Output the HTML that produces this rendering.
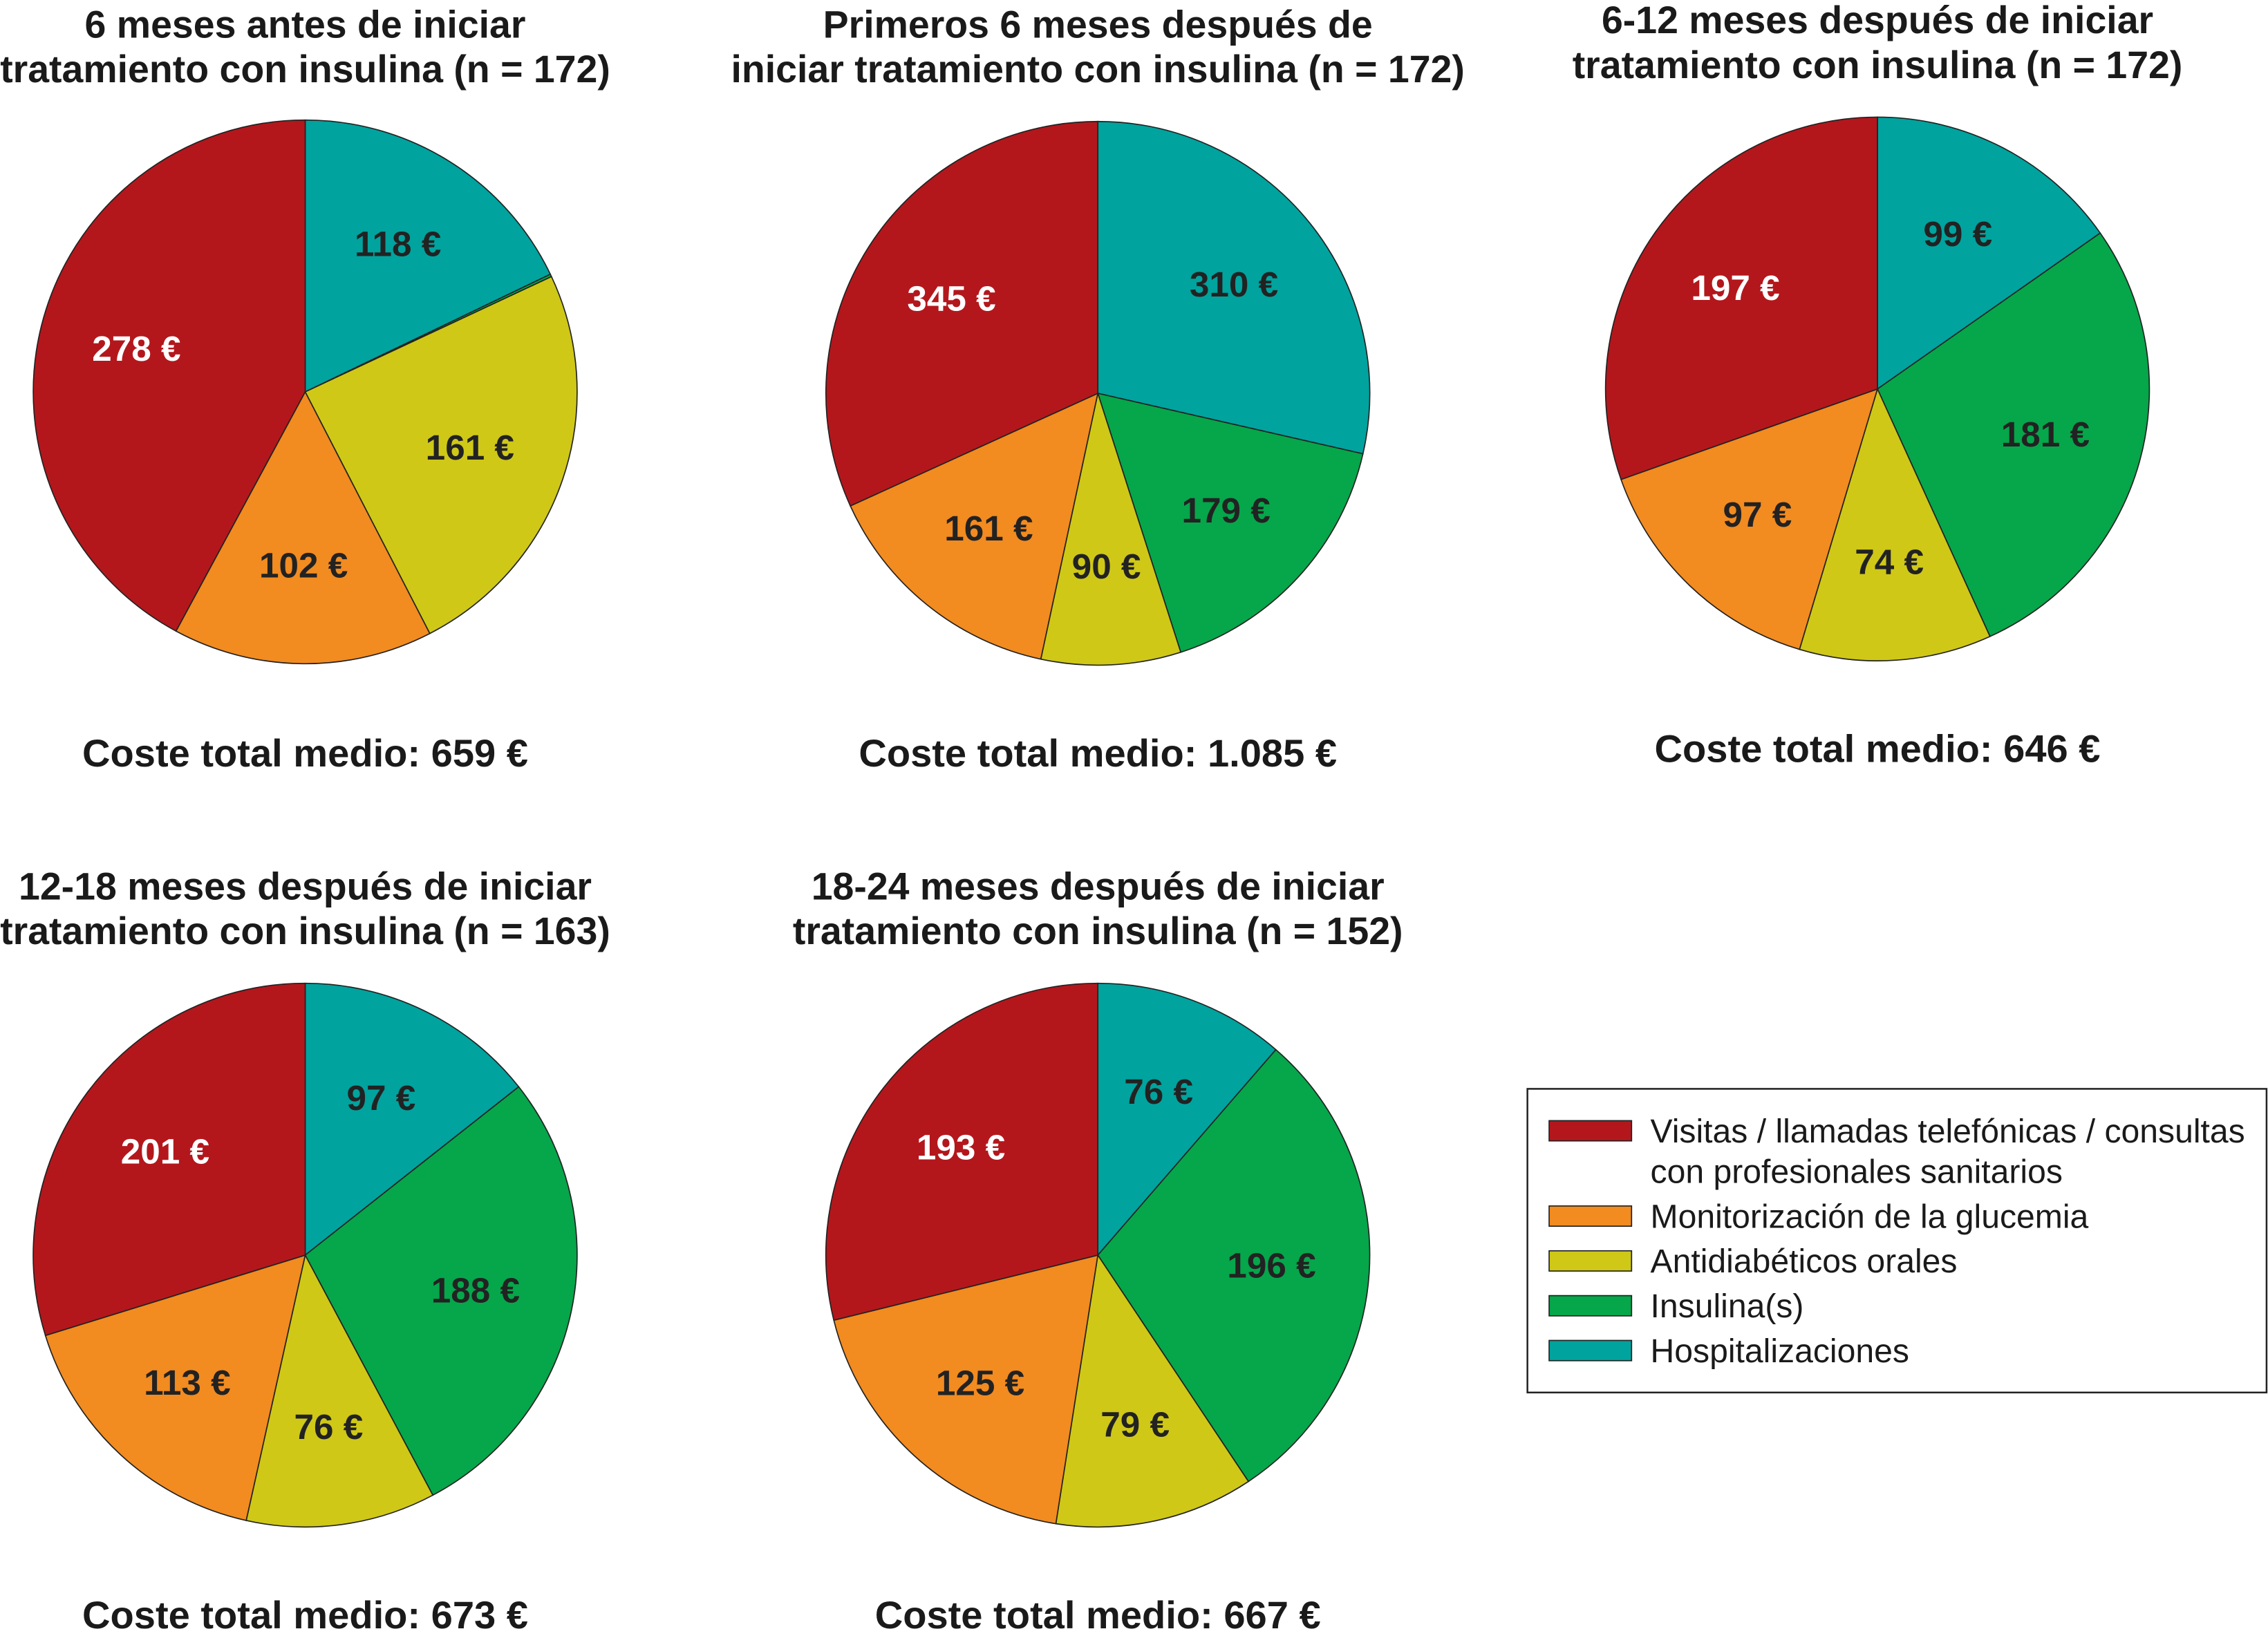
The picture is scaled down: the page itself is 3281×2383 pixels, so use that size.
<!DOCTYPE html>
<html><head><meta charset="utf-8"><style>
html,body{margin:0;padding:0;background:#fff;}
svg{display:block;}
text{font-family:"Liberation Sans",Arial,sans-serif;}
</style></head><body>
<svg id="chart" width="3281" height="2383" viewBox="0 0 1568 1139" preserveAspectRatio="none" xmlns="http://www.w3.org/2000/svg"></svg>
<script>
const categories = ["Visitas / llamadas telefónicas / consultas con profesionales sanitarios","Monitorización de la glucemia","Antidiabéticos orales","Insulina(s)","Hospitalizaciones"];
const seriesNames = ["6 meses antes","Primeros 6 meses","6-12 meses","12-18 meses","18-24 meses"];
const visitas = [278, 345, 197, 201, 193];
const monitorizacion = [102, 161, 97, 113, 125];
const antidiabeticos = [161, 90, 74, 76, 79];
const insulina = [1, 179, 181, 188, 196];
const hospitalizaciones = [118, 310, 99, 97, 76];
const totals = ["659 €","1.085 €","646 €","673 €","667 €"];
const titles1 = ["6 meses antes de iniciar","Primeros 6 meses después de","6-12 meses después de iniciar","12-18 meses después de iniciar","18-24 meses después de iniciar"];
const titles2 = ["tratamiento con insulina (n = 172)","iniciar tratamiento con insulina (n = 172)","tratamiento con insulina (n = 172)","tratamiento con insulina (n = 163)","tratamiento con insulina (n = 152)"];

const colors = ["#b3171c","#f28b20","#cfc817","#06a64b","#00a39e"];
const layout = [
  {cx:211,cy:271,ty:17,by:521},
  {cx:759,cy:272,ty:17,by:521},
  {cx:1298,cy:269,ty:14,by:518},
  {cx:211,cy:868,ty:613,by:1117},
  {cx:759,cy:868,ty:613,by:1117}
];
const R = 188;
const svg = document.getElementById('chart');
const NS = "http://www.w3.org/2000/svg";
function mk(tag, attrs){const e=document.createElementNS(NS,tag);for(const k in attrs)e.setAttribute(k,attrs[k]);return e;}

layout.forEach((L,i)=>{
  const g = mk('g',{});
  
  
  svg.appendChild(g);
  const vals = [hospitalizaciones[i], insulina[i], antidiabeticos[i], monitorizacion[i], visitas[i]];
  const cols = [colors[4],colors[3],colors[2],colors[1],colors[0]];
  const names = ['hospitalizaciones','insulina','antidiabeticos','monitorizacion','visitas'];
  const sum = vals.reduce((a,b)=>a+b,0);
  let a0 = 0;
  vals.forEach((v,j)=>{
    const a1 = a0 + v/sum*2*Math.PI;
    const x0=L.cx+R*Math.sin(a0), y0=L.cy-R*Math.cos(a0);
    const x1=L.cx+R*Math.sin(a1), y1=L.cy-R*Math.cos(a1);
    const large = (a1-a0)>Math.PI?1:0;
    const p = mk('path',{d:`M${L.cx},${L.cy} L${x0},${y0} A${R},${R} 0 ${large} 1 ${x1},${y1} Z`,fill:cols[j],stroke:'#222','stroke-width':0.8});
    
    
    g.appendChild(p);
    if(v>=5){
      const am=(a0+a1)/2, rr=R*0.64;
      const t = mk('text',{x:L.cx+rr*Math.sin(am),y:L.cy-rr*Math.cos(am)+8,'text-anchor':'middle','font-size':24.5,'font-weight':'bold',fill:j===4?'#fff':'#222'});
      t.textContent = v+' €';
      
      
      g.appendChild(t);
    }
    a0=a1;
  });
  const t1 = mk('text',{x:L.cx,y:L.ty+9,'text-anchor':'middle','font-size':26.5,'font-weight':'bold',fill:'#1a1a1a'});
  t1.textContent = titles1[i];
  
  
  g.appendChild(t1);
  const t2 = mk('text',{x:L.cx,y:L.ty+40,'text-anchor':'middle','font-size':26.5,'font-weight':'bold',fill:'#1a1a1a'});
  t2.textContent = titles2[i];
  
  
  g.appendChild(t2);
  const tb = mk('text',{x:L.cx,y:L.by+9,'text-anchor':'middle','font-size':26.8,'font-weight':'bold',fill:'#1a1a1a'});
  tb.textContent = 'Coste total medio: '+totals[i];
  
  
  g.appendChild(tb);
});

const lg = mk('g',{});


svg.appendChild(lg);
const box = mk('rect',{x:1056,y:753,width:511,height:210,fill:'#fff',stroke:'#222','stroke-width':1.2});


lg.appendChild(box);
const rowsY = [782, 841, 872, 903, 934];
categories.forEach((c,k)=>{
  const y = rowsY[k];
  const sw = mk('rect',{x:1071,y:y-7,width:57,height:14,fill:colors[k],stroke:'#222','stroke-width':0.8});
  
  
  lg.appendChild(sw);
  const lines = k===0 ? ['Visitas / llamadas telefónicas / consultas','con profesionales sanitarios'] : [c];
  lines.forEach((s,m)=>{
    const t = mk('text',{x:1141,y:y+8+m*28,'font-size':23,fill:'#1a1a1a'});
    t.textContent = s;
    
    
    lg.appendChild(t);
  });
});
</script>
</body></html>
